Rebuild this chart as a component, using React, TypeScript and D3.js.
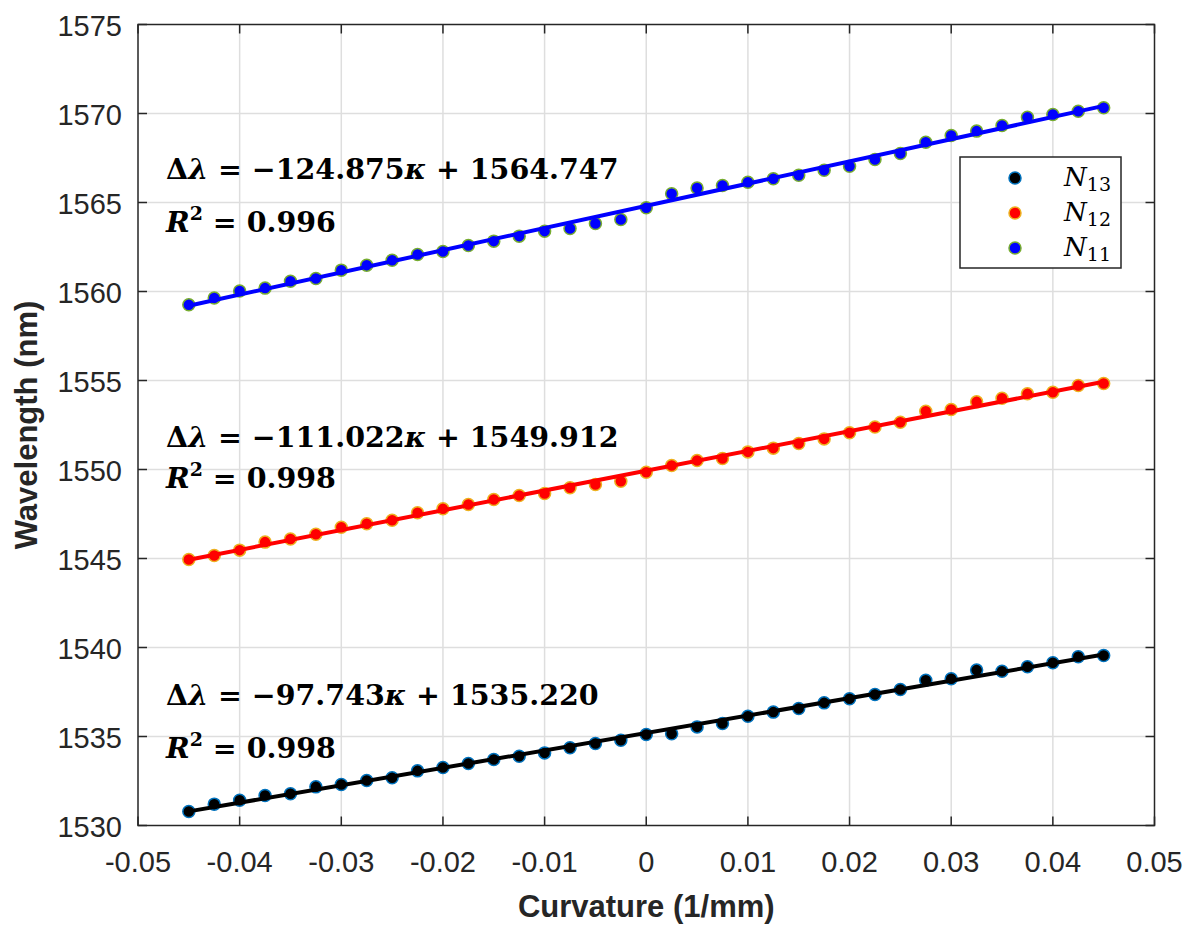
import * as d3 from "d3";

// curvature (1/mm) sample positions
const curvature = [
  -0.045, -0.0425, -0.04, -0.0375, -0.035, -0.0325, -0.03, -0.0275, -0.025,
  -0.0225, -0.02, -0.0175, -0.015, -0.0125, -0.01, -0.0075, -0.005, -0.0025, 0,
  0.0025, 0.005, 0.0075, 0.01, 0.0125, 0.015, 0.0175, 0.02, 0.0225, 0.025,
  0.0275, 0.03, 0.0325, 0.035, 0.0375, 0.04, 0.0425, 0.045,
];

const n11 = [
  1559.25, 1559.64, 1560.03, 1560.19, 1560.58, 1560.73, 1561.2, 1561.48,
  1561.76, 1562.08, 1562.25, 1562.58, 1562.83, 1563.11, 1563.39, 1563.54,
  1563.82, 1564.04, 1564.7, 1565.49, 1565.81, 1565.96, 1566.14, 1566.33,
  1566.53, 1566.81, 1567.04, 1567.42, 1567.75, 1568.39, 1568.76, 1569.01,
  1569.33, 1569.79, 1569.94, 1570.13, 1570.32,
];
const n12 = [
  1544.94, 1545.17, 1545.47, 1545.92, 1546.1, 1546.36, 1546.76, 1546.95,
  1547.15, 1547.57, 1547.79, 1548.03, 1548.31, 1548.54, 1548.65, 1548.97,
  1549.16, 1549.34, 1549.85, 1550.22, 1550.51, 1550.62, 1550.99, 1551.2,
  1551.46, 1551.72, 1552.06, 1552.39, 1552.65, 1553.27, 1553.37, 1553.8,
  1554.0, 1554.25, 1554.34, 1554.72, 1554.83,
];
const n13 = [
  1530.79, 1531.2, 1531.42, 1531.69, 1531.78, 1532.17, 1532.3, 1532.53,
  1532.68, 1533.07, 1533.26, 1533.48, 1533.71, 1533.89, 1534.08, 1534.37,
  1534.61, 1534.79, 1535.11, 1535.15, 1535.54, 1535.73, 1536.14, 1536.37,
  1536.57, 1536.89, 1537.12, 1537.36, 1537.64, 1538.16, 1538.24, 1538.73,
  1538.67, 1538.92, 1539.14, 1539.48, 1539.55,
];

const xTicks = [-0.05, -0.04, -0.03, -0.02, -0.01, 0, 0.01, 0.02, 0.03, 0.04, 0.05];
const xTickLabels = ["-0.05", "-0.04", "-0.03", "-0.02", "-0.01", "0", "0.01", "0.02", "0.03", "0.04", "0.05"];
const yTicks = [1530, 1535, 1540, 1545, 1550, 1555, 1560, 1565, 1570, 1575];

const legendNames = ["13", "12", "11"];
const slopes = ["97.743", "111.022", "124.875"];
const intercepts = ["1535.220", "1549.912", "1564.747"];
const rSquared = ["0.998", "0.998", "0.996"];

type Series = {
  values: number[];
  fill: string;
  edge: string;
  line: string;
  eqY: number;
  r2Y: number;
};

// black, red, blue (legend order)
const series: Series[] = [
  { values: n13, fill: "#000000", edge: "#0072bd", line: "#000000", eqY: 705, r2Y: 758 },
  { values: n12, fill: "#ff0000", edge: "#edb120", line: "#ff0000", eqY: 447, r2Y: 488 },
  { values: n11, fill: "#0000ff", edge: "#77ac30", line: "#0000ff", eqY: 179, r2Y: 232 },
];

const width = 1195;
const height = 935;
const left = 138;
const right = 1154.5;
const top = 24.5;
const bottom = 825.5;
const axisColor = "#262626";
const sans = "'Liberation Sans', Arial, sans-serif";
const mathFont = "'DejaVu Serif', serif";

const x = d3.scaleLinear().domain([-0.05, 0.05]).range([left, right]);
const y = d3.scaleLinear().domain([1530, 1575]).range([bottom, top]);

// least squares fit of a series against curvature
const fit = (ys: number[]) => {
  const mx = d3.mean(curvature)!;
  const my = d3.mean(ys)!;
  const sxy = d3.sum(curvature, (c, i) => (c - mx) * (ys[i] - my));
  const sxx = d3.sum(curvature, (c) => (c - mx) ** 2);
  const b = sxy / sxx;
  return (c: number) => my + b * (c - mx);
};

const App = () => {
  const ext = d3.extent(curvature) as [number, number];
  const fitLine = d3
    .line<number[]>()
    .x((p) => x(p[0]))
    .y((p) => y(p[1]));

  return (
    <svg
      width={width}
      height={height}
      style={{ position: "absolute", left: 0, top: 0, background: "#fff" }}
    >
      <rect width={width} height={height} fill="#fff" />

      {/* grid */}
      <g stroke="#dedede" strokeWidth={1.5}>
        {xTicks.slice(1, -1).map((t) => (
          <line key={"gx" + t} x1={x(t)} x2={x(t)} y1={top} y2={bottom} />
        ))}
        {yTicks.slice(1, -1).map((t) => (
          <line key={"gy" + t} x1={left} x2={right} y1={y(t)} y2={y(t)} />
        ))}
      </g>

      {/* ticks */}
      <g stroke={axisColor} strokeWidth={1.5}>
        {xTicks.map((t) => (
          <g key={"tx" + t}>
            <line x1={x(t)} x2={x(t)} y1={bottom} y2={bottom - 9} />
            <line x1={x(t)} x2={x(t)} y1={top} y2={top + 9} />
          </g>
        ))}
        {yTicks.map((t) => (
          <g key={"ty" + t}>
            <line x1={left} x2={left + 9} y1={y(t)} y2={y(t)} />
            <line x1={right} x2={right - 9} y1={y(t)} y2={y(t)} />
          </g>
        ))}
      </g>

      {/* markers */}
      {series.map((s, si) => (
        <g key={"m" + si}>
          {s.values.map((v, i) => (
            <circle
              key={i}
              cx={x(curvature[i])}
              cy={y(v)}
              r={6}
              fill={s.fill}
              stroke={s.edge}
              strokeWidth={1.5}
            />
          ))}
        </g>
      ))}

      {/* fitted lines */}
      {series.map((s, si) => {
        const f = fit(s.values);
        const pts = ext.map((c) => [c, f(c)]);
        return (
          <path
            key={"l" + si}
            d={fitLine(pts) ?? ""}
            fill="none"
            stroke={s.line}
            strokeWidth={4}
          />
        );
      })}

      {/* equations */}
      {series.map((s, si) => (
        <g key={"eq" + si} fontFamily={mathFont} fontWeight="bold" fontSize={28.5} fill="#000">
          <text x={166} y={s.eqY}>
            <tspan>Δ</tspan>
            <tspan fontStyle="italic">λ</tspan>
            <tspan>{" = −" + slopes[si]}</tspan>
            <tspan fontStyle="italic">κ</tspan>
            <tspan>{" + " + intercepts[si]}</tspan>
          </text>
          <text x={166} y={s.r2Y}>
            <tspan fontStyle="italic">R</tspan>
            <tspan fontSize={19} dy={-12}>2</tspan>
            <tspan dy={12}>{" = " + rSquared[si]}</tspan>
          </text>
        </g>
      ))}

      {/* axes box */}
      <rect
        x={left}
        y={top}
        width={right - left}
        height={bottom - top}
        fill="none"
        stroke={axisColor}
        strokeWidth={1.5}
      />

      {/* tick labels */}
      <g fontFamily={sans} fontSize={29} fill={axisColor}>
        {xTicks.map((t, i) => (
          <text key={"lx" + t} x={x(t)} y={872} textAnchor="middle">
            {xTickLabels[i]}
          </text>
        ))}
        {yTicks.map((t) => (
          <text key={"ly" + t} x={122} y={y(t) + 11} textAnchor="end">
            {t}
          </text>
        ))}
      </g>

      {/* axis titles */}
      <text
        x={(left + right) / 2}
        y={917}
        textAnchor="middle"
        fontFamily={sans}
        fontWeight="bold"
        fontSize={31}
        fill={axisColor}
      >
        Curvature (1/mm)
      </text>
      <text
        transform={`translate(37,${(top + bottom) / 2}) rotate(-90)`}
        textAnchor="middle"
        fontFamily={sans}
        fontWeight="bold"
        fontSize={31}
        fill={axisColor}
      >
        Wavelength (nm)
      </text>

      {/* legend */}
      <rect x={960} y={157} width={161} height={111} fill="#fff" stroke={axisColor} strokeWidth={1.5} />
      {series.map((s, si) => (
        <g key={"lg" + si}>
          <circle cx={1015} cy={178 + si * 35} r={6} fill={s.fill} stroke={s.edge} strokeWidth={1.5} />
          <text
            x={1111}
            y={186 + si * 35}
            textAnchor="end"
            fontFamily="'DejaVu Serif', serif"
            fontSize={26}
            fill="#000"
          >
            <tspan fontStyle="italic">N</tspan>
            <tspan fontSize={19} dy={5}>{legendNames[si]}</tspan>
          </text>
        </g>
      ))}
    </svg>
  );
};

export default App;
